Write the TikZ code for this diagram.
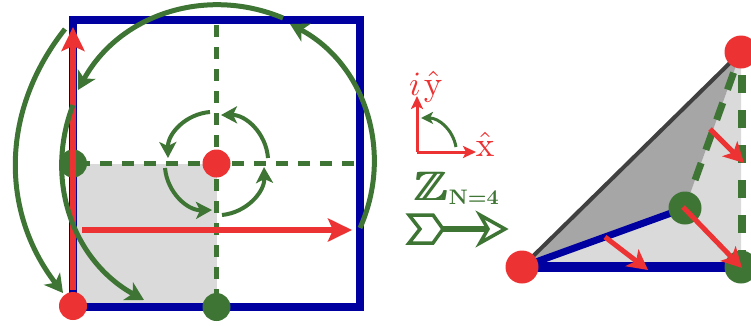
\documentclass[tikz,border=0pt]{standalone}
\usepackage{xcolor}
\usepackage{graphicx}
\usepackage{amsmath,amssymb}
\usetikzlibrary{arrows.meta,backgrounds}
\definecolor{latblue}{RGB}{0,0,160}
\definecolor{latgreen}{RGB}{62,117,52}
\definecolor{latred}{RGB}{236,50,50}
\definecolor{lightfold}{RGB}{218,218,218}
\definecolor{darkfold}{RGB}{166,166,166}
\definecolor{darkedge}{RGB}{64,64,64}
\newcommand{\zglyph}{\scalebox{5}[4.1]{$\mathbb{Z}$}}
\newcommand{\heavyz}{\rlap{\zglyph}\kern0.8pt\rlap{\zglyph}\kern0.8pt\rlap{\zglyph}\kern0.8pt\zglyph}
\tikzset{
  rdot/.style={circle,fill=latred,minimum size=#1,inner sep=0pt},
  rdot/.default=28pt,
  gdot/.style={circle,fill=latgreen,minimum size=#1,inner sep=0pt},
  gdot/.default=28pt,
  bigarc/.style={-{Stealth[length=18pt,width=20pt,inset=5pt]},line width=5pt,color=latgreen},
  smallarc/.style={-{Stealth[length=16pt,width=17pt,inset=4pt]},line width=4pt,color=latgreen},
  redarr/.style={-{Stealth[length=24pt,width=23pt,inset=5pt]},line width=5.5pt,color=latred},
  fanarr/.style={-{Stealth[length=20pt,width=21pt,inset=5pt]},line width=5pt,color=latred},
  axarr/.style={-{Stealth[length=13pt,width=12pt,inset=3pt]},line width=3pt,color=latred},
  mirror/.style={line width=5pt,color=latgreen,dash pattern=on 12pt off 10pt},
  arrowout/.style={draw=latgreen,fill=white,line width=3.5pt,miter limit=4},
}

\begin{document}
\begin{tikzpicture}[x=1pt,y=-1pt]
    \path[use as bounding box,clip] (0,0) rectangle (751,325);

    % square cell
    \coordinate (tl) at (73,20);
    \coordinate (br) at (360,307);
    \coordinate (tm) at (216.5,25);
    \coordinate (rm) at (356,163.5);
    \node[rdot] (cen) at (216.5,163.5) {};
    \node[gdot] (lm) at (73,163.5) {};
    \node[rdot] (bl) at (73,306) {};
    \node[gdot] (bm) at (216.5,307) {};

    \begin{scope}[on background layer]
      \fill[lightfold] (lm.center) rectangle (bm.center);
      \draw[latblue,line width=8pt] (tl) rectangle (br);
      \draw[mirror,dash phase=17pt] (lm.center) -- (rm);
      \draw[mirror] (tm) -- (bm.center);
    \end{scope}

    % long red arrows
    \coordinate (hs) at (82,230);
    \coordinate (he) at (352,230);
    \coordinate (vs) at (73,290);
    \coordinate (ve) at (73,27);
    \draw[redarr] (vs) -- (ve);
    \draw[redarr] (hs) -- (he);

    % big rotation arcs
    \coordinate (a1s) at (65,29);
    \coordinate (a1e) at (63,293);
    \coordinate (a2s) at (283,18);
    \coordinate (a2e) at (78,90);
    \coordinate (a3s) at (73,105);
    \coordinate (a3e) at (144,300);
    \coordinate (a4s) at (360,228);
    \coordinate (a4e) at (290,24);
    \draw[bigarc] (a1s) to[bend right=38] (a1e);
    \draw[bigarc] (a2s) to[bend right=42] (a2e);
    \draw[bigarc] (a3s) to[bend right=41] (a3e);
    \draw[bigarc] (a4s) to[bend right=43] (a4e);

    % small rotation arcs
    \coordinate (b1s) at (268,158);
    \coordinate (b1e) at (221,115);
    \coordinate (b2s) at (210,112);
    \coordinate (b2e) at (168,158);
    \coordinate (b3s) at (165,168);
    \coordinate (b3e) at (212,210);
    \coordinate (b4s) at (222,215);
    \coordinate (b4e) at (264,167);
    \draw[smallarc] (b1s) to[bend right=43] (b1e);
    \draw[smallarc] (b2s) to[bend right=43] (b2e);
    \draw[smallarc] (b3s) to[bend right=43] (b3e);
    \draw[smallarc] (b4s) to[bend right=43] (b4e);

    % axes
    \coordinate (og) at (417,152);
    \coordinate (yt) at (417,96);
    \coordinate (xt) at (476,152);
    \coordinate (rs) at (456,147);
    \coordinate (re) at (421,118);
    \node[text=latred,inner sep=0pt,anchor=base west] (ylab) at (409,95)
      {\scalebox{3.4}{$i$}\kern3pt\scalebox{3.5}{$\hat{\mathrm{y}}$}};
    \node[text=latred,inner sep=0pt,anchor=base] (xlab) at (485,156) {\scalebox{3.5}{$\hat{\mathrm{x}}$}};
    \draw[axarr] (og) -- (yt);
    \draw[axarr] (og) -- (xt);
    \draw[-{Stealth[length=12pt,width=12pt,inset=3pt]},line width=3pt,color=latgreen] (rs) to[bend right=40] (re);

    % group label and symbol
    \node[text=latgreen,inner sep=0pt,anchor=base west] (zn) at (413,200)
      {\heavyz\raisebox{-4pt}{\scalebox{2.1}{\textbf{N=4}}}};
    \coordinate (ss) at (440,229);
    \coordinate (se) at (490,229);
    \draw[latgreen,line width=6pt] (ss) -- (se);
    \draw[arrowout] (409,215) -- (433,215) -- (443,229) -- (433,243) -- (409,243) -- (420,229) -- cycle;
    \draw[arrowout] (480,215) -- (505,229) -- (480,243) -- (488,229) -- cycle;

    % fundamental domain
    \node[rdot=33pt] (p1) at (522,267) {};
    \node[gdot=33pt] (p2) at (741,267) {};
    \node[rdot=33pt] (p3) at (741,52) {};
    \node[gdot=33pt] (p4) at (685,208) {};

    \begin{scope}[on background layer]
      \fill[lightfold] (p1.center) -- (p2.center) -- (p3.center) -- (p4.center) -- cycle;
      \fill[darkfold] (p1.center) -- (p4.center) -- (p3.center) -- cycle;
      \draw[darkedge,line width=4pt] (p1.center) -- (p3.center);
      \draw[latblue,line width=7pt] (p1.center) -- (p4.center);
      \draw[latblue,line width=10pt] (p1.center) -- (p2.center);
      \draw[latgreen,line width=7pt,dash pattern=on 18pt off 14pt,dash phase=10pt] (p3.center) -- (p4.center);
      \draw[latgreen,line width=8pt,dash pattern=on 18pt off 17pt,dash phase=12pt] ([xshift=1pt]p3.center) -- ([xshift=1pt]p2.center);
    \end{scope}

    \coordinate (f1s) at (605,237);
    \coordinate (f1e) at (648,270);
    \coordinate (f2s) at (683,207);
    \coordinate (f2e) at (742,268);
    \coordinate (f3s) at (710,129);
    \coordinate (f3e) at (744,163);
    \draw[fanarr] (f1s) -- (f1e);
    \draw[fanarr] (f2s) -- (f2e);
    \draw[fanarr] (f3s) -- (f3e);
\end{tikzpicture}
\end{document}
